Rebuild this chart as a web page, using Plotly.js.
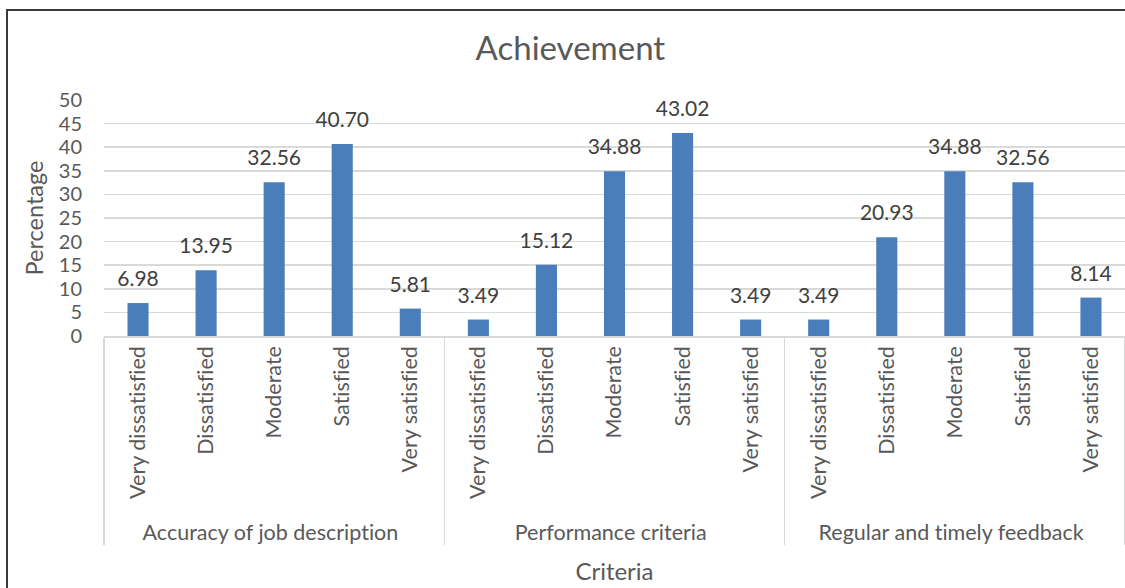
<!DOCTYPE html>
<html>
<head>
<meta charset="utf-8">
<script src="https://cdn.plot.ly/plotly-3.0.1.min.js"></script>
<style>
  html, body { margin: 0; padding: 0; background: #fff; }
  #wrap { position: relative; width: 1125px; height: 588px; overflow: hidden; }
  #chart { position: absolute; left: 0; top: 0; width: 1125px; height: 588px; }
  #chart text { font-variant-ligatures: none; font-feature-settings: "liga" 0; }
  #frame { position: absolute; left: 6px; top: 9px; width: 1200px; height: 700px;
           border-left: 2px solid #3a3a3a; border-top: 2px solid #3a3a3a; pointer-events: none; }
</style>
</head>
<body>
<div id="wrap">
  <div id="chart"></div>
  <div id="frame"></div>
</div>
<script>
// Survey criteria (outer level) and satisfaction levels (inner level)
const criteria = ["Accuracy of job description", "Performance criteria", "Regular and timely feedback"];
const levels = ["Very dissatisfied", "Dissatisfied", "Moderate", "Satisfied", "Very satisfied"];

// Percentage of respondents per level, one array per criterion
const accuracyValues = [6.98, 13.95, 32.56, 40.70, 5.81];
const performanceValues = [3.49, 15.12, 34.88, 43.02, 3.49];
const feedbackValues = [3.49, 20.93, 34.88, 32.56, 8.14];

const seriesByCriterion = [accuracyValues, performanceValues, feedbackValues];

const outer = [], inner = [], yVals = [];
criteria.forEach((c, i) => {
  levels.forEach((l, j) => {
    outer.push(c);
    inner.push(l);
    yVals.push(seriesByCriterion[i][j]);
  });
});

const FONT = "Lato, 'Open Sans', sans-serif";
const GREY = "#595959";

const bars = {
  type: "bar",
  x: [outer, inner],
  y: yVals,
  marker: { color: "#4a7ebb" },
  width: 0.31,
  hoverinfo: "skip"
};

// Value labels sit above each bar; an invisible marker gives them some lift
const labels = {
  type: "scatter",
  mode: "markers+text",
  x: [outer, inner],
  y: yVals,
  marker: { size: 17, opacity: 0 },
  text: yVals.map(v => v.toFixed(2)),
  textposition: "top center",
  cliponaxis: false,
  textfont: { family: FONT, size: 21, color: "#404040" },
  hoverinfo: "skip"
};

const layout = {
  width: 1125,
  height: 588,
  margin: { l: 104, r: 0, t: 100, b: 252 },
  paper_bgcolor: "#fff",
  plot_bgcolor: "#fff",
  showlegend: false,
  title: {
    text: "Achievement",
    x: 0.507, xref: "container", xanchor: "center",
    y: 1 - 48 / 588, yref: "container", yanchor: "middle",
    font: { family: FONT, size: 33, color: GREY }
  },
  xaxis: {
    type: "multicategory",
    range: [-0.5, 14.5],
    tickangle: -90,
    tickfont: { family: FONT, size: 21.5, color: GREY },
    showdividers: true,
    dividercolor: "#d9d9d9",
    dividerwidth: 1.5,
    showline: true,
    linecolor: "#d9d9d9",
    linewidth: 1.5,
    ticks: "",
    showgrid: false,
    automargin: false,
    title: { text: "Criteria", font: { family: FONT, size: 24, color: GREY } }
  },
  yaxis: {
    range: [0, 50],
    dtick: 5,
    tick0: 0,
    showgrid: true,
    gridcolor: "#d9d9d9",
    gridwidth: 1.5,
    zeroline: false,
    ticks: "",
    ticklabelstandoff: 21,
    tickfont: { family: FONT, size: 20, color: GREY },
    automargin: false,
    title: { text: "Percentage", standoff: 8, font: { family: FONT, size: 23.5, color: GREY } }
  }
};

Plotly.newPlot("chart", [bars, labels], layout, { staticPlot: true, displayModeBar: false });
</script>
</body>
</html>
